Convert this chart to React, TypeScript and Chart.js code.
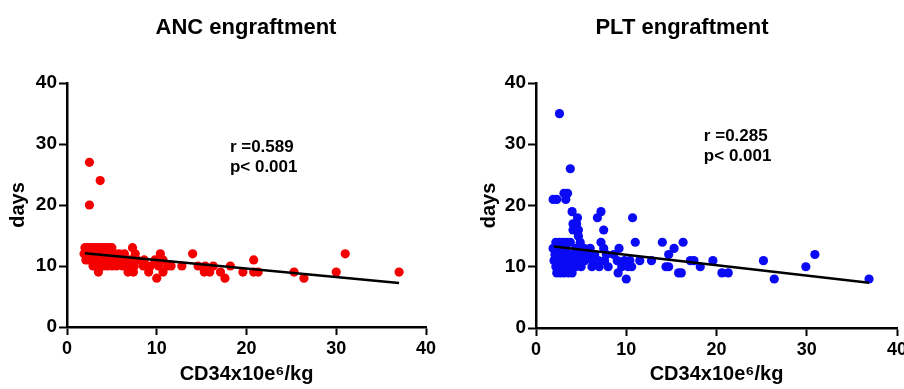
import React, { useEffect, useRef } from "react";
import { Chart, registerables } from "chart.js";

Chart.register(...registerables);

// ---------- ANC engraftment ----------
const ancCd34 = [
  2.5, 3.7, 2.5,
  2.0, 2.3, 2.6, 2.9, 3.2, 3.5, 3.8, 4.1, 4.4, 4.7, 5.0, 7.3,
  1.9, 2.2, 2.5, 2.8, 3.1, 3.4, 3.7, 4.0, 4.3, 4.6, 4.9, 5.3, 5.8, 6.4, 7.6, 10.4, 14.0, 31.0,
  2.1, 2.4, 2.7, 3.0, 3.3, 3.6, 3.9, 4.2, 4.5, 4.8, 5.2, 5.6, 6.0, 6.6, 7.0, 7.8, 8.6, 9.8, 10.7, 20.8,
  2.9, 3.3, 3.7, 4.1, 4.5, 5.0, 5.5, 6.2, 6.8, 7.5, 8.5, 9.3, 10.2, 11.2, 11.6, 12.8, 14.6, 15.4, 16.3, 18.2,
  3.5, 6.8, 7.4, 9.1, 10.7, 15.3, 15.9, 17.1, 19.6, 20.8, 21.3, 25.3, 30.0, 37.0,
  10.0, 17.6, 26.4,
];
const ancDays = [
  27, 24, 20,
  13, 13, 13, 13, 13, 13, 13, 13, 13, 13, 13, 13,
  12, 12, 12, 12, 12, 12, 12, 12, 12, 12, 12, 12, 12, 12, 12, 12, 12, 12,
  11, 11, 11, 11, 11, 11, 11, 11, 11, 11, 11, 11, 11, 11, 11, 11, 11, 11, 11, 11,
  10, 10, 10, 10, 10, 10, 10, 10, 10, 10, 10, 10, 10, 10, 10, 10, 10, 10, 10, 10,
  9, 9, 9, 9, 9, 9, 9, 9, 9, 9, 9, 9, 9, 9,
  8, 8, 8,
];
const ancFitX = [2.0, 37.0];
const ancFitY = [12.1, 7.2];
const ancStats = ["r =0.589", "p< 0.001"];
const ancStatsAt = [18.15, 29.5];

// ---------- PLT engraftment ----------
const pltCd34 = [
  2.6, 3.8, 3.1, 3.5, 1.9, 2.3, 3.3,
  4.0, 7.2, 4.6, 6.8, 10.7, 4.1, 4.5, 4.1, 4.7, 7.5, 4.7,
  2.2, 2.6, 3.0, 3.4, 3.8, 4.9, 7.2, 11.0, 14.0, 16.3,
  1.9, 2.4, 2.8, 3.3, 4.4, 5.3, 6.0, 7.5, 9.2, 15.3,
  2.1, 2.5, 2.9, 3.2, 3.6, 4.0, 4.6, 5.1, 5.8, 6.5, 7.8, 8.6, 14.7, 30.9,
  2.0, 2.4, 2.8, 3.2, 3.7, 4.2, 4.8, 5.4, 6.3, 6.9, 7.6, 9.0, 9.8, 10.4, 11.5, 12.8, 17.1, 17.5, 19.6, 25.2,
  2.2, 2.6, 3.0, 3.5, 3.9, 4.4, 5.0, 6.2, 7.0, 8.0, 9.5, 10.2, 10.6, 14.4, 14.7, 18.2, 29.9,
  2.3, 2.7, 3.1, 3.6, 4.0, 9.1, 15.8, 16.1, 20.6, 21.3,
  10.0, 26.4, 36.9,
];
const pltDays = [
  35, 26, 22, 22, 21, 21, 21,
  19, 19, 18, 18, 18, 17, 17, 16, 16, 16, 15,
  14, 14, 14, 14, 14, 14, 14, 14, 14, 14,
  13, 13, 13, 13, 13, 13, 13, 13, 13, 13,
  12, 12, 12, 12, 12, 12, 12, 12, 12, 12, 12, 12, 12, 12,
  11, 11, 11, 11, 11, 11, 11, 11, 11, 11, 11, 11, 11, 11, 11, 11, 11, 11, 11, 11,
  10, 10, 10, 10, 10, 10, 10, 10, 10, 10, 10, 10, 10, 10, 10, 10, 10,
  9, 9, 9, 9, 9, 9, 9, 9, 9, 9,
  8, 8, 8,
];
const pltFitX = [2.0, 36.9];
const pltFitY = [13.3, 7.4];
const pltStats = ["r =0.285", "p< 0.001"];
const pltStatsAt = [18.6, 31.3];

const axisTicks = [0, 10, 20, 30, 40];
const xTitle = "CD34x10e\u2076/kg";
const yTitle = "days";

const FONT = "'Liberation Sans', Arial, Helvetica, sans-serif";

const overlayPlugin = {
  id: "overlay",
  afterDraw(chart: any, _args: any, opts: any) {
    const ctx = chart.ctx;
    ctx.save();
    // panel title
    ctx.fillStyle = "#000";
    ctx.font = `bold 22px ${FONT}`;
    ctx.textAlign = "center";
    ctx.textBaseline = "middle";
    ctx.fillText(opts.title, opts.titleX, opts.titleY);
    // statistics
    const xs = chart.scales.x;
    const ys = chart.scales.y;
    const px = xs.getPixelForValue(opts.statsAt[0]);
    const py = ys.getPixelForValue(opts.statsAt[1]);
    ctx.font = `bold 17px ${FONT}`;
    ctx.textAlign = "left";
    opts.stats.forEach((s: string, i: number) => {
      ctx.fillText(s, px, py + i * 20);
    });
    ctx.restore();
  },
};

function makeConfig(p: any) {
  const points = p.xs.map((x: number, i: number) => ({ x, y: p.ys[i] }));
  const fit = p.fitX.map((x: number, i: number) => ({ x, y: p.fitY[i] }));
  return {
    type: "scatter",
    data: {
      datasets: [
        {
          type: "line",
          data: fit,
          borderColor: "#000",
          borderWidth: 2.5,
          pointRadius: 0,
          fill: false,
          order: 0,
        },
        {
          data: points,
          backgroundColor: p.color,
          borderColor: p.color,
          borderWidth: 0,
          pointRadius: 4.6,
          order: 1,
        },
      ],
    },
    options: {
      responsive: false,
      animation: false,
      layout: { padding: { top: 83, left: 0, right: p.padRight, bottom: 0 } },
      plugins: {
        legend: { display: false },
        tooltip: { enabled: false },
        title: { display: false },
        overlay: {
          title: p.title,
          titleX: p.titleX,
          titleY: 28,
          stats: p.stats,
          statsAt: p.statsAt,
        },
      },
      scales: {
        x: {
          type: "linear",
          min: 0,
          max: 40,
          afterBuildTicks: (s: any) => {
            s.ticks = axisTicks.map((v) => ({ value: v }));
          },
          afterFit: (s: any) => {
            s.height = p.xHeight;
          },
          grid: {
            drawOnChartArea: false,
            drawTicks: true,
            tickLength: 8,
            tickWidth: 2,
            tickColor: "#000",
          },
          border: { display: true, color: "#000", width: 2.5 },
          ticks: {
            color: "#000",
            padding: 3,
            maxRotation: 0,
            font: { family: FONT, size: 18, weight: "bold" },
          },
          title: {
            display: true,
            text: xTitle,
            color: "#000",
            font: { family: FONT, size: 20, weight: "bold" },
            padding: { top: 0, bottom: 3 },
          },
        },
        y: {
          type: "linear",
          min: 0,
          max: 40,
          afterBuildTicks: (s: any) => {
            s.ticks = axisTicks.map((v) => ({ value: v }));
          },
          afterFit: (s: any) => {
            s.width = p.yWidth;
          },
          grid: {
            drawOnChartArea: false,
            drawTicks: true,
            tickLength: 8,
            tickWidth: 2,
            tickColor: "#000",
          },
          border: { display: true, color: "#000", width: 2.5 },
          ticks: {
            color: "#000",
            padding: 2,
            font: { family: FONT, size: 19, weight: "bold" },
          },
          title: {
            display: true,
            text: yTitle,
            color: "#000",
            font: { family: FONT, size: 20, weight: "bold" },
            padding: { top: p.yTitlePad, bottom: 0 },
          },
        },
      },
    },
    plugins: [overlayPlugin],
  };
}

export default function App() {
  const leftRef = useRef<HTMLCanvasElement>(null);
  const rightRef = useRef<HTMLCanvasElement>(null);

  useEffect(() => {
    document.body.style.margin = "0";
    const left = new Chart(
      leftRef.current as HTMLCanvasElement,
      makeConfig({
        xs: ancCd34,
        ys: ancDays,
        fitX: ancFitX,
        fitY: ancFitY,
        color: "#f50000",
        title: "ANC engraftment",
        titleX: 246,
        stats: ancStats,
        statsAt: ancStatsAt,
        padRight: 26,
        yWidth: 67,
        xHeight: 62,
        yTitlePad: 6,
      }) as any
    );
    const right = new Chart(
      rightRef.current as HTMLCanvasElement,
      makeConfig({
        xs: pltCd34,
        ys: pltDays,
        fitX: pltFitX,
        fitY: pltFitY,
        color: "#0a0af5",
        title: "PLT engraftment",
        titleX: 230,
        stats: pltStats,
        statsAt: pltStatsAt,
        padRight: 17,
        yWidth: 84,
        xHeight: 61,
        yTitlePad: 25,
      }) as any
    );
    return () => {
      left.destroy();
      right.destroy();
    };
  }, []);

  return (
    <div
      style={{
        position: "relative",
        width: 904,
        height: 389,
        overflow: "hidden",
        background: "#fff",
      }}
    >
      <canvas
        ref={leftRef}
        width={452}
        height={389}
        style={{ position: "absolute", left: 0, top: 0, width: 452, height: 389 }}
      />
      <canvas
        ref={rightRef}
        width={462}
        height={389}
        style={{ position: "absolute", left: 452, top: 0, width: 462, height: 389 }}
      />
    </div>
  );
}
